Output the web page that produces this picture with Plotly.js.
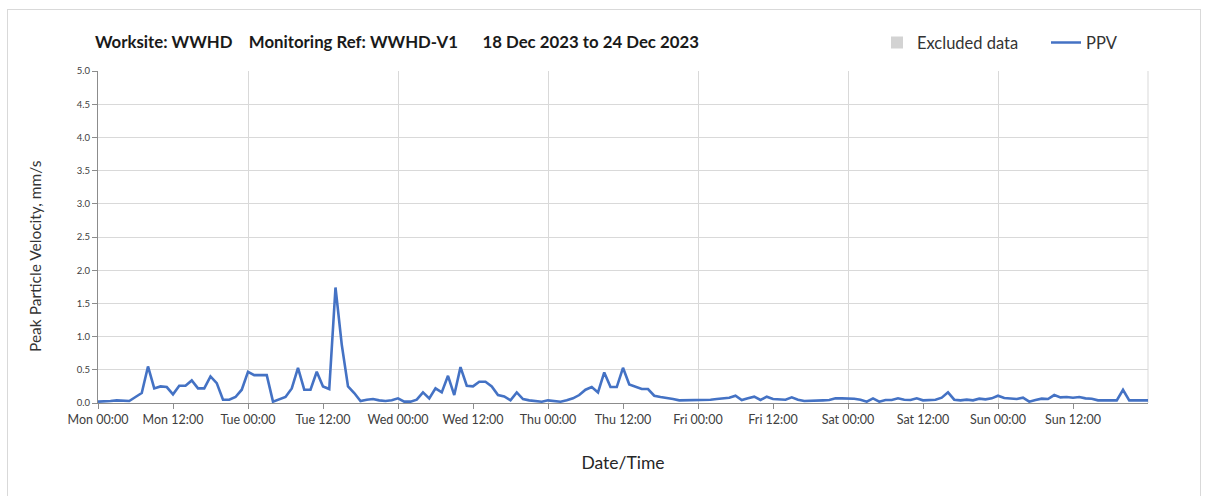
<!DOCTYPE html>
<html>
<head>
<meta charset="utf-8">
<script src="https://cdn.plot.ly/plotly-3.0.1.min.js"></script>
<style>
  html, body { margin: 0; padding: 0; background: #ffffff; }
  #wrap { position: relative; width: 1208px; height: 496px; overflow: hidden; }
  #chart { width: 1208px; height: 496px; }
  #frame { position: absolute; left: 7px; top: 9px; width: 1194px; height: 500px;
           border: 1px solid #d9d9d9; pointer-events: none; box-sizing: border-box; }
</style>
</head>
<body>
<div id="wrap">
  <div id="chart"></div>
  <div id="frame"></div>
</div>
<script>
// ---- Data ----
const startTime = "2023-12-18 00:00";      // first reading, Mon 18 Dec 2023 00:00
const endTime = "2023-12-25 00:00";        // axis end
const readingIntervalHours = 1;            // hourly readings

// Tick positions / labels on the time axis (every 12 hours)
const tickTimes = ["2023-12-18 00:00","2023-12-18 12:00","2023-12-19 00:00","2023-12-19 12:00",
                   "2023-12-20 00:00","2023-12-20 12:00","2023-12-21 00:00","2023-12-21 12:00",
                   "2023-12-22 00:00","2023-12-22 12:00","2023-12-23 00:00","2023-12-23 12:00",
                   "2023-12-24 00:00","2023-12-24 12:00"];
const tickLabels = ["Mon 00:00","Mon 12:00","Tue 00:00","Tue 12:00","Wed 00:00","Wed 12:00",
                    "Thu 00:00","Thu 12:00","Fri 00:00","Fri 12:00","Sat 00:00","Sat 12:00",
                    "Sun 00:00","Sun 12:00"];

// Peak Particle Velocity (mm/s), one value per hour, Mon 00:00 -> Mon 25 Dec 00:00
const ppvMon = [0.02,0.02,0.03,0.04,0.03,0.03,0.09,0.15,0.55,0.22,0.25,0.24,
                0.13,0.26,0.26,0.34,0.22,0.22,0.40,0.30,0.05,0.05,0.09,0.20];
const ppvTue = [0.47,0.42,0.42,0.42,0.02,0.05,0.09,0.22,0.53,0.20,0.20,0.47,
                0.25,0.21,1.74,0.88,0.25,0.15,0.03,0.05,0.06,0.04,0.03,0.04];
const ppvWed = [0.07,0.02,0.02,0.05,0.16,0.07,0.22,0.16,0.41,0.12,0.54,0.26,
                0.25,0.32,0.32,0.25,0.12,0.10,0.04,0.16,0.06,0.04,0.03,0.02];
const ppvThu = [0.04,0.03,0.02,0.04,0.07,0.12,0.20,0.24,0.16,0.46,0.24,0.24,
                0.53,0.28,0.25,0.21,0.21,0.11,0.09,0.08,0.06,0.04,0.04,0.04];
const ppvFri = [0.05,0.04,0.05,0.06,0.07,0.08,0.11,0.045,0.07,0.095,0.045,0.095,
                0.06,0.06,0.05,0.085,0.05,0.03,0.03,0.04,0.04,0.045,0.07,0.07];
const ppvSat = [0.07,0.065,0.05,0.02,0.07,0.02,0.045,0.045,0.07,0.05,0.045,0.07,
                0.04,0.045,0.05,0.08,0.16,0.05,0.04,0.05,0.04,0.065,0.055,0.07];
const ppvSun = [0.11,0.075,0.07,0.06,0.08,0.02,0.045,0.065,0.06,0.12,0.085,0.09,
                0.08,0.09,0.07,0.065,0.04,0.04,0.04,0.04,0.20,0.04,0.04,0.04];
const ppvMonEnd = [0.04];

const titleText = "Worksite: WWHD&nbsp;&nbsp;&nbsp; Monitoring Ref: WWHD-V1&nbsp;&nbsp;&nbsp;&nbsp;&nbsp; 18 Dec 2023 to 24 Dec 2023";
const xTitle = "Date/Time";
const yTitle = "Peak Particle Velocity, mm/s";
const seriesName = "PPV";
const excludedName = "Excluded data";

// ---- Build series ----
const ppv = [].concat(ppvMon, ppvTue, ppvWed, ppvThu, ppvFri, ppvSat, ppvSun, ppvMonEnd);
const t0 = new Date(startTime.replace(" ", "T") + ":00Z").getTime();
function fmt(ms) {
  const d = new Date(ms);
  const p = n => String(n).padStart(2, "0");
  return d.getUTCFullYear() + "-" + p(d.getUTCMonth() + 1) + "-" + p(d.getUTCDate()) +
         " " + p(d.getUTCHours()) + ":" + p(d.getUTCMinutes());
}
const times = ppv.map((_, i) => fmt(t0 + i * readingIntervalHours * 3600000));

const font = "Lato, 'Open Sans', 'DejaVu Sans', sans-serif";

const traces = [
  {
    type: "bar", name: excludedName, x: [null], y: [null],
    marker: { color: "#d3d3d3" }, xaxis: "x2", hoverinfo: "skip", showlegend: true,
    legend: "legend"
  },
  {
    type: "scatter", mode: "lines", name: seriesName, x: times, y: ppv,
    line: { color: "#4472c4", width: 2.6 }, legend: "legend2"
  }
];

const legendFont = { family: font, size: 16.5, color: "#333333" };

const layout = {
  width: 1208, height: 496,
  margin: { l: 98, r: 60, t: 71, b: 93 },
  paper_bgcolor: "#ffffff", plot_bgcolor: "#ffffff",
  font: { family: font, color: "#404040" },
  title: {
    text: titleText, font: { family: font, size: 16.8, color: "#1a1a1a", weight: "bold" },
    x: 95 / 1208, xanchor: "left", xref: "container", y: 1 - 42 / 496, yanchor: "middle",
    yref: "container"
  },
  showlegend: true,
  legend: {
    orientation: "h", x: (877 - 98) / 1050, xanchor: "left", y: 1.085, yanchor: "middle",
    font: legendFont, bgcolor: "rgba(0,0,0,0)"
  },
  legend2: {
    orientation: "h", x: (1046 - 98) / 1050, xanchor: "left", y: 1.085, yanchor: "middle",
    font: legendFont, bgcolor: "rgba(0,0,0,0)"
  },
  xaxis: {
    type: "date", range: [startTime, endTime],
    tickmode: "array", tickvals: tickTimes, ticktext: tickLabels,
    showgrid: false, showline: true, linecolor: "#8c8c8c", linewidth: 1,
    ticks: "outside", ticklen: 5, tickcolor: "#8c8c8c",
    tickfont: { family: font, size: 12.5, color: "#404040" },
    title: { text: xTitle, font: { family: font, size: 17.5, color: "#262626" }, standoff: 30 },
    zeroline: false
  },
  xaxis2: {
    type: "date", overlaying: "x", matches: "x",
    range: [startTime, endTime],
    dtick: 24 * 3600000, tick0: startTime,
    showgrid: true, gridcolor: "#d9d9d9", gridwidth: 1,
    showticklabels: false, ticks: "", showline: false, zeroline: false
  },
  yaxis: {
    range: [0, 5], dtick: 0.5, tickformat: ".1f",
    showgrid: true, gridcolor: "#d9d9d9", gridwidth: 1,
    showline: true, linecolor: "#8c8c8c", linewidth: 1, mirror: false,
    ticks: "outside", ticklen: 5, tickcolor: "#8c8c8c",
    tickfont: { family: font, size: 9.5, color: "#404040" },
    zeroline: false
  },
  annotations: [
    { text: yTitle, xref: "paper", yref: "paper", x: (35 - 98) / 1050, y: (403 - 256) / 332,
      xanchor: "center", yanchor: "middle", textangle: -90, showarrow: false,
      font: { family: font, size: 15.5, color: "#333333" } }
  ],
  shapes: [
    { type: "line", xref: "paper", yref: "paper", x0: 1, x1: 1, y0: 0, y1: 1,
      line: { color: "#d9d9d9", width: 1 }, layer: "below" }
  ]
};

Plotly.newPlot("chart", traces, layout, { displayModeBar: false, staticPlot: true });
</script>
</body>
</html>
